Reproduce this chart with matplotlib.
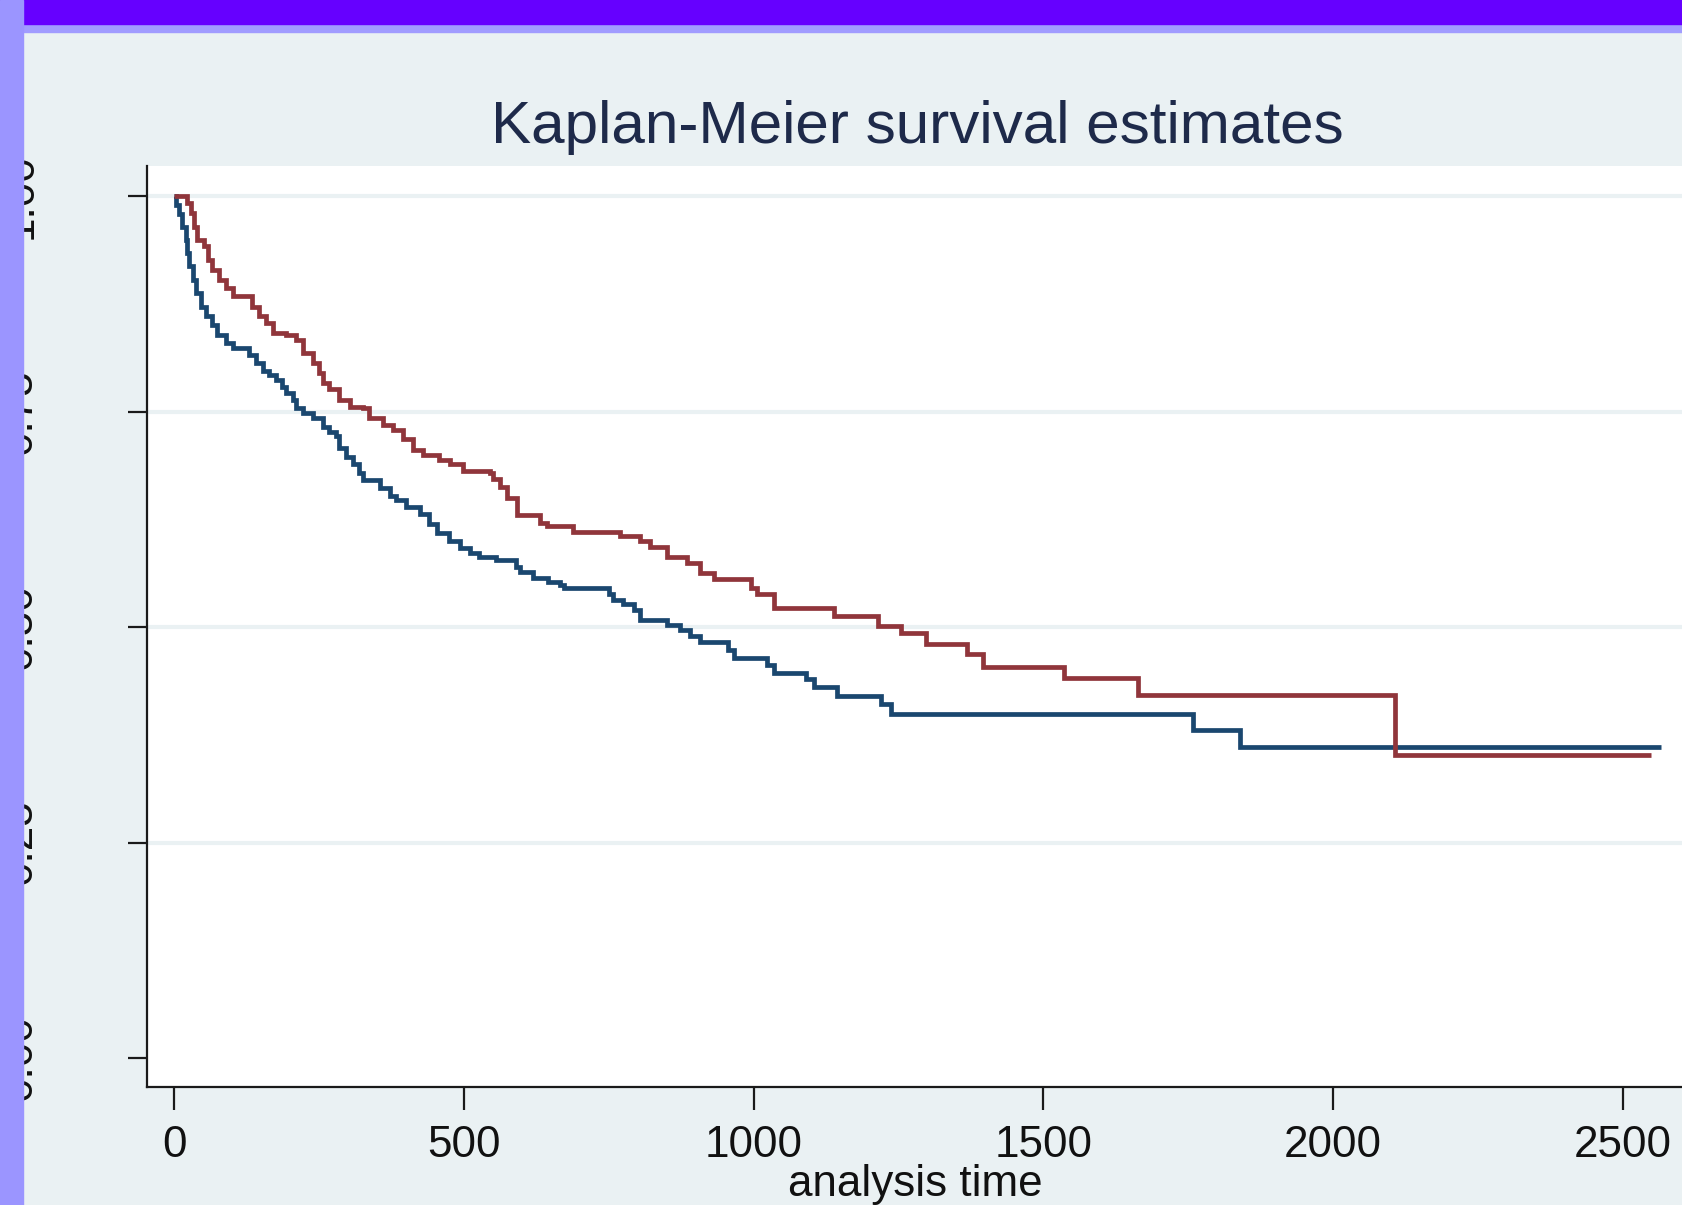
import matplotlib
matplotlib.use('Agg')
import matplotlib.pyplot as plt
from matplotlib.patches import Rectangle

# Kaplan-Meier step curves (time, survival)
blue_time = [0, 4, 9, 14, 20, 23, 26, 32, 38, 46, 55, 66, 75, 89, 101, 130, 141, 153, 164,
             176, 187, 193, 205, 211, 222, 239, 257, 268, 280, 285, 297, 308, 320, 326, 355,
             372, 383, 401, 424, 440, 453, 475, 493, 510, 527, 555, 590, 597, 620, 645, 666,
             672, 750, 758, 775, 793, 804, 850, 873, 890, 908, 955, 966, 1023, 1035, 1090,
             1104, 1144, 1219, 1237, 1758, 1839, 2565]
blue_surv = [1.0, 0.990, 0.980, 0.965, 0.950, 0.934, 0.919, 0.903, 0.888, 0.872, 0.861, 0.851,
             0.839, 0.830, 0.824, 0.816, 0.807, 0.797, 0.793, 0.787, 0.779, 0.772, 0.764, 0.754,
             0.749, 0.743, 0.733, 0.727, 0.722, 0.708, 0.698, 0.689, 0.679, 0.671, 0.662, 0.652,
             0.648, 0.640, 0.632, 0.620, 0.609, 0.600, 0.592, 0.586, 0.582, 0.578, 0.570, 0.564,
             0.557, 0.552, 0.549, 0.546, 0.539, 0.532, 0.527, 0.520, 0.508, 0.503, 0.497, 0.490,
             0.483, 0.474, 0.464, 0.456, 0.447, 0.440, 0.431, 0.420, 0.411, 0.399, 0.381, 0.361,
             0.361]

red_time = [0, 23, 29, 35, 40, 52, 58, 66, 78, 89, 101, 135, 147, 159, 170, 193, 210, 222, 239,
            251, 257, 268, 285, 303, 326, 337, 360, 378, 395, 412, 430, 458, 476, 499, 545, 550,
            562, 575, 591, 631, 643, 689, 770, 804, 821, 850, 885, 908, 931, 995, 1006, 1035,
            1138, 1214, 1254, 1297, 1369, 1395, 1536, 1663, 2107, 2548]
red_surv = [1.0, 0.992, 0.981, 0.965, 0.950, 0.942, 0.926, 0.915, 0.903, 0.894, 0.884, 0.872,
            0.861, 0.853, 0.841, 0.839, 0.834, 0.818, 0.807, 0.795, 0.783, 0.776, 0.764, 0.756,
            0.754, 0.743, 0.735, 0.729, 0.718, 0.706, 0.700, 0.694, 0.689, 0.681, 0.679, 0.672,
            0.663, 0.650, 0.630, 0.621, 0.617, 0.611, 0.606, 0.600, 0.593, 0.582, 0.574, 0.563,
            0.556, 0.545, 0.539, 0.522, 0.513, 0.501, 0.493, 0.481, 0.469, 0.454, 0.441, 0.421,
            0.352, 0.352]

y_ticks = [0.0, 0.25, 0.5, 0.75, 1.0]
y_labels = ['0.00', '0.25', '0.50', '0.75', '1.00']
x_ticks = [0, 500, 1000, 1500, 2000, 2500]

plt.rcParams['font.family'] = ['Liberation Sans', 'DejaVu Sans']

W, H = 1683, 1205
bg = '#EAF1F3'
fig = plt.figure(figsize=(W / 100, H / 100), dpi=100, facecolor=bg)
ax = fig.add_axes([147 / W, 1 - 1087 / H, 1 - 147 / W, (1087 - 166) / H])
ax.set_facecolor('white')

ax.step(blue_time, blue_surv, where='post', color='#1A476F', lw=3.4,
        solid_joinstyle='miter', solid_capstyle='butt', zorder=3)
ax.step(red_time, red_surv, where='post', color='#90353B', lw=3.4,
        solid_joinstyle='miter', solid_capstyle='butt', zorder=3)

ax.set_xlim(-46.6, 2603.5)
ax.set_ylim(-0.0337, 1.0354)

ax.set_xticks(x_ticks)
ax.set_yticks(y_ticks, y_labels, rotation=90, va='center')
ax.grid(axis='y', color='#EAF1F3', lw=3.0, zorder=0)
ax.get_ygridlines()[0].set_visible(False)
ax.set_axisbelow(True)

for side in ['top', 'right']:
    ax.spines[side].set_visible(False)
for side in ['left', 'bottom']:
    ax.spines[side].set_linewidth(1.6)
    ax.spines[side].set_color('#1a1a1a')

ax.tick_params(axis='x', length=16.5, width=1.6, color='#1a1a1a', pad=11,
               labelsize=31.7, labelcolor='#111111')
ax.tick_params(axis='y', length=13.7, width=1.6, color='#1a1a1a', pad=63,
               labelsize=31.7, labelcolor='#111111')

fig.text(917 / W, 1 - 143 / H, 'Kaplan-Meier survival estimates', ha='center',
         va='baseline', fontsize=43.4, color='#1E2A4A')
# axis title sits at the very bottom edge; kept just inside the frame
fig.text(915 / W, 1 - 1164 / H, 'analysis time', ha='center', va='top',
         fontsize=31.7, color='#111111')

# window frame bits at the top and left edges of the screenshot
fig.add_artist(Rectangle((0, 1 - 32 / H), 1, 8 / H, transform=fig.transFigure,
                         color='#A19CFF', zorder=10))
fig.add_artist(Rectangle((0, 1 - 24 / H), 1, 24 / H, transform=fig.transFigure,
                         color='#6600FF', zorder=10))
fig.add_artist(Rectangle((0, 0), 23 / W, 1, transform=fig.transFigure,
                         color='#9B95FF', zorder=11))

fig.savefig('out.png', dpi=100, facecolor=bg)
